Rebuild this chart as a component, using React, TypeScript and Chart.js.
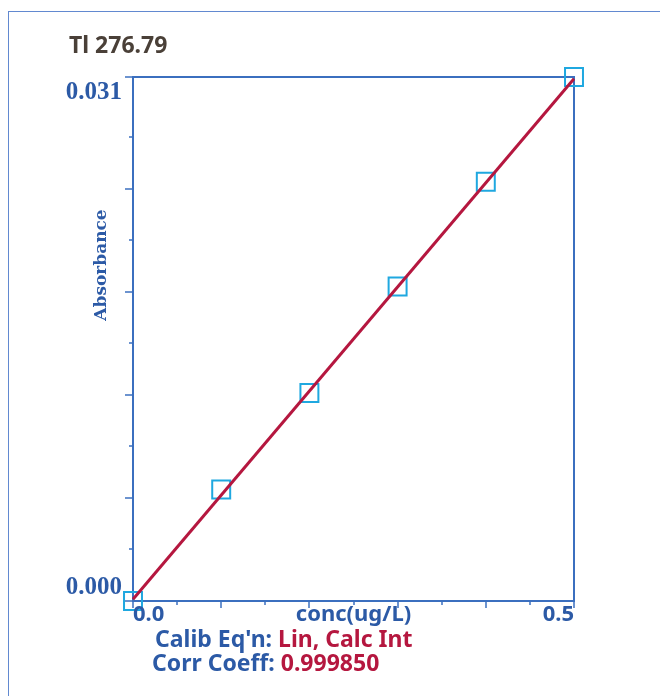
import React, { useEffect, useRef } from "react";
import { Chart, registerables } from "chart.js";

Chart.register(...registerables);

// ---- data ----
const titleText = "Tl 276.79";
const concentrations = [0, 0.1, 0.2, 0.3, 0.4, 0.5];
const absorbances = [0.0, 0.0066, 0.0123, 0.0186, 0.0248, 0.031];
const fitX = [0, 0.5];
const fitY = [0.0001, 0.0309];

const xMin = 0;
const xMax = 0.5;
const yMin = 0;
const yMax = 0.031;

const xMajorTicks = [0, 0.1, 0.2, 0.3, 0.4, 0.5];
const xMinorTicks = [0.05, 0.15, 0.25, 0.35, 0.45];
const yMajorTicks = [0, 0.0061, 0.0122, 0.0183, 0.0244, 0.031];
const yMinorTicks = [0.00305, 0.00915, 0.01525, 0.02135, 0.02745];

const yLabelValues = [0, 0.031];
const yLabelTexts = ["0.000", "0.031"];
const xLabelValues = [0, 0.5];
const xLabelTexts = ["0.0", "0.5"];
const xAxisTitle = "conc(ug/L)";
const yAxisTitle = "Absorbance";

const eqnLabel = "Calib Eq'n: ";
const eqnValue = "Lin, Calc Int";
const corrLabel = "Corr Coeff: ";
const corrValue = "0.999850";

// ---- styles ----
const AXIS_COLOR = "#3b6fbf";
const BLUE_TEXT = "#2c5aa6";
const RED = "#b5173f";
const CYAN = "#1fa8e0";
const TITLE_COLOR = "#4a4038";
const SANS = "'Noto Sans', 'DejaVu Sans', sans-serif";

const decorPlugin = {
  id: "calibDecor",
  beforeDatasetsDraw(chart: any) {
    const { ctx, chartArea, scales } = chart;
    const { left, right, top, bottom } = chartArea;
    const x = scales.x;
    const y = scales.y;
    ctx.save();
    ctx.strokeStyle = AXIS_COLOR;
    ctx.lineWidth = 2;
    ctx.strokeRect(left, top, right - left, bottom - top);
    ctx.lineWidth = 1.5;
    const seg = (x1: number, y1: number, x2: number, y2: number) => {
      ctx.beginPath();
      ctx.moveTo(x1, y1);
      ctx.lineTo(x2, y2);
      ctx.stroke();
    };
    yMajorTicks.forEach((v) => {
      const py = Math.round(y.getPixelForValue(v));
      seg(left - 8, py, left, py);
    });
    yMinorTicks.forEach((v) => {
      const py = Math.round(y.getPixelForValue(v));
      seg(left - 4, py, left, py);
    });
    xMajorTicks.forEach((v) => {
      const px = Math.round(x.getPixelForValue(v));
      seg(px, bottom, px, bottom + 7);
    });
    xMinorTicks.forEach((v) => {
      const px = Math.round(x.getPixelForValue(v));
      seg(px, bottom, px, bottom + 4);
    });
    ctx.restore();
  },
  afterDraw(chart: any) {
    const { ctx, chartArea, scales } = chart;
    const { left, right, top, bottom } = chartArea;
    const x = scales.x;
    const y = scales.y;
    ctx.save();

    // title
    ctx.fillStyle = TITLE_COLOR;
    ctx.font = `bold 23px ${SANS}`;
    ctx.textAlign = "left";
    ctx.textBaseline = "alphabetic";
    ctx.fillText(titleText, left - 64, top - 24);

    // y labels
    ctx.fillStyle = BLUE_TEXT;
    ctx.font = "bold 25px 'Liberation Serif', 'Times New Roman', serif";
    ctx.textAlign = "right";
    yLabelValues.forEach((v, i) => {
      const py = y.getPixelForValue(v);
      const base = v === yMax ? py + 22 : py - 7;
      ctx.fillText(yLabelTexts[i], left - 11, base);
    });

    // x labels
    ctx.font = `bold 22px ${SANS}`;
    xLabelValues.forEach((v, i) => {
      const px = x.getPixelForValue(v);
      ctx.textAlign = i === 0 ? "left" : "right";
      ctx.fillText(xLabelTexts[i], px, bottom + 20);
    });
    ctx.textAlign = "center";
    ctx.fillText(xAxisTitle, (left + right) / 2, bottom + 20);

    // y axis title
    ctx.save();
    ctx.translate(left - 31, top + 188);
    ctx.rotate(-Math.PI / 2);
    ctx.font = "bold 17px 'DejaVu Serif', 'Liberation Serif', serif";
    ctx.textAlign = "center";
    ctx.textBaseline = "middle";
    ctx.fillText(yAxisTitle, 0, 0);
    ctx.restore();

    // footer lines
    ctx.font = `bold 23px ${SANS}`;
    ctx.textAlign = "left";
    const drawPair = (a: string, b: string, sx: number, by: number) => {
      ctx.fillStyle = BLUE_TEXT;
      ctx.fillText(a, sx, by);
      const w = ctx.measureText(a).width;
      ctx.fillStyle = RED;
      ctx.fillText(b, sx + w, by);
    };
    drawPair(eqnLabel, eqnValue, left + 22, bottom + 46);
    drawPair(corrLabel, corrValue, left + 19, bottom + 70);

    ctx.restore();
  },
};

export default function App() {
  const canvasRef = useRef<HTMLCanvasElement | null>(null);

  useEffect(() => {
    const canvas = canvasRef.current;
    if (!canvas) return;
    const chart = new Chart(canvas, {
      type: "scatter",
      data: {
        datasets: [
          {
            label: "fit",
            data: fitX.map((v, i) => ({ x: v, y: fitY[i] })),
            showLine: true,
            borderColor: RED,
            borderWidth: 3,
            pointRadius: 0,
            pointHoverRadius: 0,
            clip: false,
          } as any,
          {
            label: "standards",
            data: concentrations.map((v, i) => ({ x: v, y: absorbances[i] })),
            showLine: false,
            pointStyle: "rect",
            pointRadius: 12.7,
            pointHoverRadius: 12.7,
            borderColor: CYAN,
            backgroundColor: "rgba(0,0,0,0)",
            pointBorderWidth: 2,
            borderWidth: 2,
            clip: false,
          } as any,
        ],
      },
      options: {
        responsive: false,
        animation: false,
        devicePixelRatio: 1,
        layout: { padding: { left: 124, top: 65, right: 86, bottom: 96 } },
        plugins: {
          legend: { display: false },
          tooltip: { enabled: false },
          title: { display: false },
        },
        events: [],
        scales: {
          x: { type: "linear", min: xMin, max: xMax, display: false },
          y: { type: "linear", min: yMin, max: yMax, display: false },
        },
      },
      plugins: [decorPlugin],
    });
    return () => chart.destroy();
  }, []);

  return (
    <div
      style={{
        position: "fixed",
        left: 8,
        top: 11,
        width: 652,
        height: 686,
        borderTop: "1px solid #6289d0",
        borderLeft: "1px solid #6289d0",
        background: "#fff",
      }}
    >
      <canvas
        ref={canvasRef}
        width={651}
        height={685}
        style={{ position: "absolute", left: 0, top: 0, width: 651, height: 685 }}
      />
    </div>
  );
}
